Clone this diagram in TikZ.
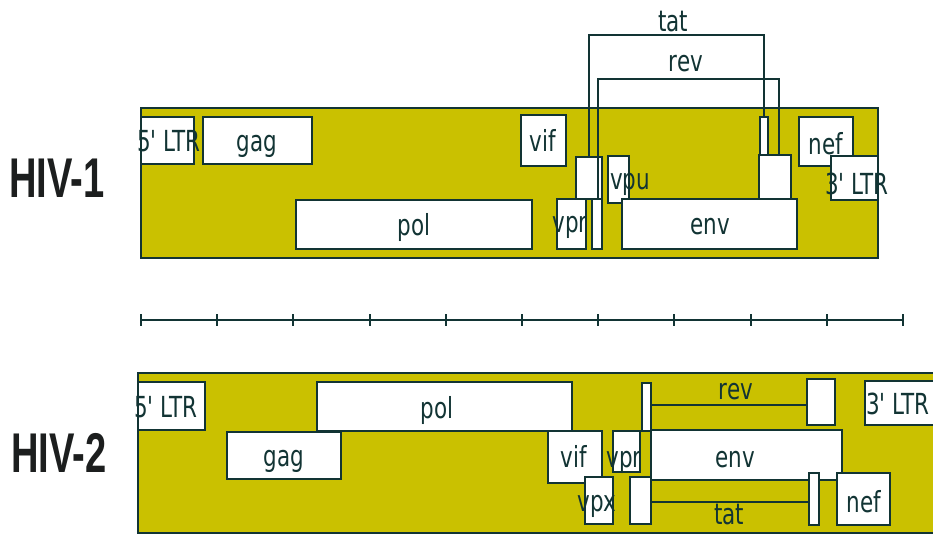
\documentclass[tikz,border=0pt]{standalone}
\usepackage{fontspec}
\setmainfont{DejaVu Sans}
\newfontfamily\genefont[FakeStretch=0.74,Ligatures=TeXOff]{DejaVu Sans}
\newfontfamily\virusfont[FakeStretch=0.68]{Liberation Sans}
\definecolor{ink}{RGB}{18,52,52}
\definecolor{genomefill}{RGB}{202,193,0}
\definecolor{virusink}{RGB}{28,30,30}
\newcommand\gbox[6]{% style name x1 y1 x2 y2
  \pgfmathsetmacro\gbw{#5-#3}\pgfmathsetmacro\gbh{#6-#4}%
  \node[#1,minimum width=\gbw pt,minimum height=\gbh pt] (#2) at ({(#3+#5)/2},{(#4+#6)/2}) {};}
\begin{document}
\begin{tikzpicture}[x=1pt,y=-1pt,
  genebox/.style={draw=ink,line width=2pt,fill=white,inner sep=0pt,outer sep=0pt},
  genomebox/.style={draw=ink,line width=2pt,fill=genomefill,inner sep=0pt,outer sep=0pt},
  genelabel/.style={text=ink,inner sep=0pt,yshift=-8pt,font=\genefont\fontsize{29}{29}\selectfont,text height=0.76em,text depth=0.24em},
  virus/.style={text=virusink,inner sep=0pt,font=\virusfont\bfseries\fontsize{56}{56}\selectfont},
  genelink/.style={draw=ink,line width=2pt},
  scalebar/.style={draw=ink,line width=2pt}]
\useasboundingbox (0,0) rectangle (933,536);
\clip (0,0) rectangle (933,536);
\fill[white] (0,0) rectangle (933,536);

% ---------------- HIV-1 ----------------
\gbox{genomebox}{genome1}{141}{108}{878}{258}
\gbox{genebox}{ltr5a}{141}{117}{194}{164}
\gbox{genebox}{gag1}{203}{117}{312}{164}
\gbox{genebox}{pol1}{296}{200}{532}{249}
\gbox{genebox}{vif1}{521}{115}{566}{166}
\gbox{genebox}{vpr1}{557}{199}{586}{249}
\gbox{genebox}{tat1a}{576}{157}{602}{199}
\gbox{genebox}{rev1a}{592}{199}{602}{249}
\gbox{genebox}{vpu1}{608}{156}{629}{203}
\gbox{genebox}{env1}{622}{199}{797}{249}
\gbox{genebox}{tat1b}{760}{117}{768}{156}
\gbox{genebox}{rev1b}{759}{155}{791}{199}
\gbox{genebox}{nef1}{799}{117}{853}{166}
\gbox{genebox}{ltr3a}{831}{156}{878}{200}

\coordinate (tattop) at (0,35);
\coordinate (revtop) at (0,79);
\draw[genelink] (tat1a.north) -- (tat1a.north |- tattop) -| (tat1b.north);
\draw[genelink] ([xshift=1pt]rev1a.north) -- ([xshift=1pt]rev1a.north |- revtop) -| ([xshift=4pt]rev1b.north);

\node[genelabel] (t1) at (169,141) {5' LTR};
\node[genelabel] (t2) at (257,141) {gag};
\node[genelabel] (t3) at (414,225) {pol};
\node[genelabel] (t4) at (543,141) {vif};
\node[genelabel] (t5) at (570,222) {vpr};
\node[genelabel] (t6) at (630,179) {vpu};
\node[genelabel] (t7) at (710,224) {env};
\node[genelabel] (t8) at (826,144) {nef};
\node[genelabel] (t9) at (857,184) {3' LTR};
\node[genelabel] (t10) at (673,21) {tat};
\node[genelabel] (t11) at (686,61) {rev};
\node[virus] (hiv1) at (57,178) {HIV-1};

% ---------------- scale ----------------
\draw[scalebar] (141,320) -- (903,320);
\foreach \i in {0,...,10} {
  \draw[scalebar] ({141+76.2*\i},314) -- ({141+76.2*\i},326);
}

% ---------------- HIV-2 ----------------
\gbox{genomebox}{genome2}{138}{373}{945}{533}
\gbox{genebox}{ltr5b}{138}{382}{205}{430}
\gbox{genebox}{pol2}{317}{382}{572}{431}
\gbox{genebox}{gag2}{227}{432}{341}{479}
\gbox{genebox}{vif2}{548}{431}{602}{483}
\gbox{genebox}{vpx2}{585}{477}{613}{524}
\gbox{genebox}{vpr2}{613}{431}{640}{472}
\gbox{genebox}{rev2a}{642}{383}{651}{431}
\gbox{genebox}{tat2a}{630}{477}{651}{524}
\gbox{genebox}{env2}{651}{430}{842}{480}
\gbox{genebox}{rev2b}{807}{379}{835}{425}
\gbox{genebox}{tat2b}{809}{473}{819}{525}
\gbox{genebox}{nef2}{837}{473}{890}{525}
\gbox{genebox}{ltr3b}{865}{381}{945}{425}

\coordinate (revmid) at (0,405);
\coordinate (tatmid) at (0,502);
\draw[genelink] (rev2a.east |- revmid) -- (rev2b.west |- revmid);
\draw[genelink] (tat2a.east |- tatmid) -- (tat2b.west |- tatmid);

\node[genelabel] (u1) at (166,407) {5' LTR};
\node[genelabel] (u2) at (437,408) {pol};
\node[genelabel] (u3) at (284,456) {gag};
\node[genelabel] (u4) at (574,457) {vif};
\node[genelabel] (u5) at (597,501) {vpx};
\node[genelabel] (u6) at (624,457) {vpr};
\node[genelabel] (u7) at (735,457) {env};
\node[genelabel] (u8) at (736,389) {rev};
\node[genelabel] (u9) at (729,514) {tat};
\node[genelabel] (u10) at (864,502) {nef};
\node[genelabel] (u11) at (898,404) {3' LTR};
\node[virus] (hiv2) at (59,453) {HIV-2};
\end{tikzpicture}
\end{document}
